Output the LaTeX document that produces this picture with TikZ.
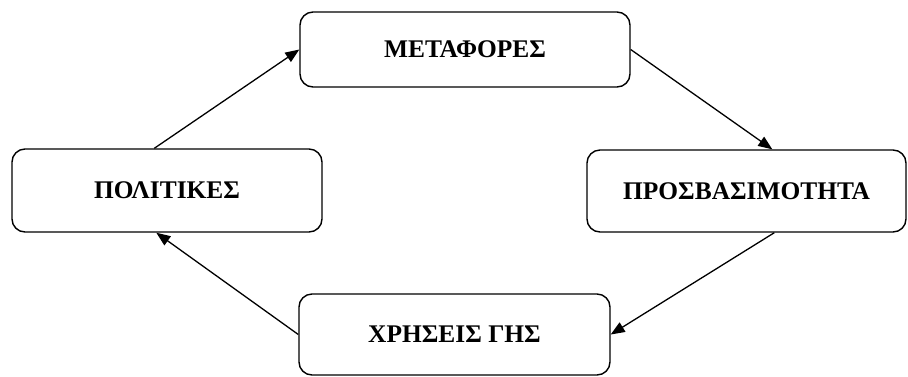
\documentclass[tikz,border=0pt]{standalone}
\usepackage{fontspec}
\setmainfont{Liberation Serif}
\usetikzlibrary{arrows.meta}
\begin{document}
\begin{tikzpicture}[x=1pt,y=-1pt,
  box/.style={draw, line width=1.4pt, rounded corners=13pt, inner sep=0pt,
    font=\fontsize{25.4}{30}\selectfont\bfseries},
  conn/.style={line width=1.3pt, -{Triangle[length=14pt,width=11pt]}}]
\useasboundingbox (0,0) rectangle (908,376);
\node[box, minimum width=330pt, minimum height=75pt] (met) at (465,49.5) {ΜΕΤΑΦΟΡΕΣ};
\node[box, minimum width=310pt, minimum height=83pt] (pol) at (167,190.5) {ΠΟΛΙΤΙΚΕΣ};
\node[box, minimum width=319pt, minimum height=82pt] (pro) at (746.5,191) {ΠΡΟΣΒΑΣΙΜΟΤΗΤΑ};
\node[box, minimum width=311pt, minimum height=81pt] (xrh) at (454.5,334.5) {ΧΡΗΣΕΙΣ ΓΗΣ};
\draw[conn] ([xshift=143pt]pol.north west) -- (met.west);
\draw[conn] (met.east) -- ([xshift=186pt]pro.north west);
\draw[conn] ([xshift=188pt]pro.south west) -- (xrh.east);
\draw[conn] (xrh.west) -- ([xshift=145pt]pol.south west);
\end{tikzpicture}
\end{document}
